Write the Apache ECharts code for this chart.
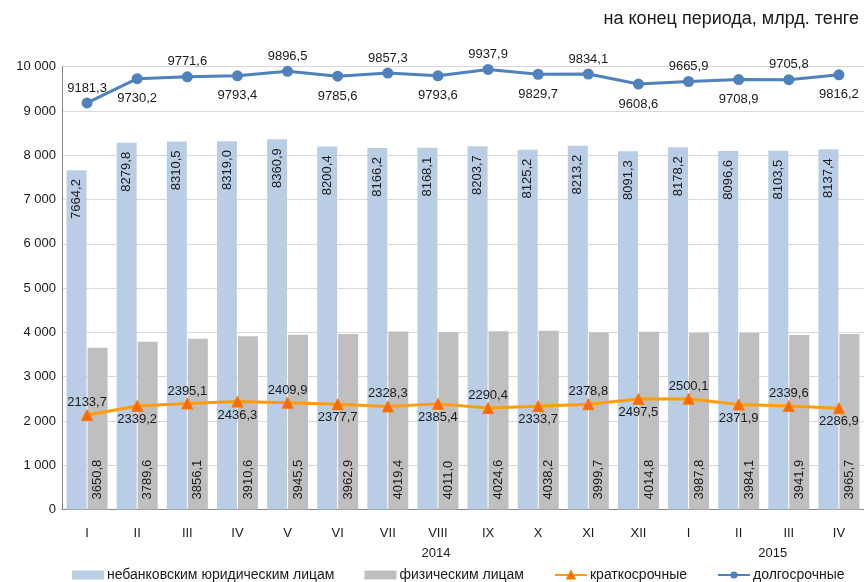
<!DOCTYPE html>
<html><head><meta charset="utf-8">
<script src="https://cdn.jsdelivr.net/npm/echarts@6/dist/echarts.min.js"></script>
<style>html,body{margin:0;padding:0;background:#fff}#c{width:864px;height:582px}</style>
</head><body><div id="c"></div>
<script>
const categories = ['I','II','III','IV','V','VI','VII','VIII','IX','X','XI','XII','I','II','III','IV'];
const legalEntities = [7664.2,8279.8,8310.5,8319.0,8360.9,8200.4,8166.2,8168.1,8203.7,8125.2,8213.2,8091.3,8178.2,8096.6,8103.5,8137.4];
const individuals = [3650.8,3789.6,3856.1,3910.6,3945.5,3962.9,4019.4,4011.0,4024.6,4038.2,3999.7,4014.8,3987.8,3984.1,3941.9,3965.7];
const shortTerm = [2133.7,2339.2,2395.1,2436.3,2409.9,2377.7,2328.3,2385.4,2290.4,2333.7,2378.8,2497.5,2500.1,2371.9,2339.6,2286.9];
const longTerm = [9181.3,9730.2,9771.6,9793.4,9896.5,9785.6,9857.3,9793.6,9937.9,9829.7,9834.1,9608.6,9665.9,9708.9,9705.8,9816.2];
const seriesNames = ['небанковским юридическим лицам','физическим лицам','краткосрочные','долгосрочные'];
const unitTitle = 'на конец периода, млрд. тенге';
const yearLabels = {7:'2014', 13:'2015'};

const FONT = '"Liberation Sans", Arial, sans-serif';
const fmt = v => v.toFixed(1).replace('.', ',');
const fmtY = v => String(v).replace(/\B(?=(\d{3})+(?!\d))/g, ' ');

const lineData = (arr, dTop, dBottom) => arr.map((v, i) => ({
  value: v,
  label: i % 2 === 0 ? { position: 'top', distance: dTop } : { position: 'bottom', distance: dBottom }
}));

const chart = echarts.init(document.getElementById('c'), null, {renderer: 'canvas'});
chart.setOption({
  animation: false,
  textStyle: { fontFamily: FONT },
  title: {
    text: unitTitle, right: 0, top: 5,
    textStyle: { fontFamily: FONT, fontSize: 18, fontWeight: 'normal', color: '#1a1a1a' }
  },
  grid: { left: 62, top: 66.7, width: 803, bottom: 72.5, containLabel: false },
  legend: {
    bottom: -5, left: 67, itemGap: 30, itemWidth: 32, itemHeight: 9,
    textStyle: { fontFamily: FONT, fontSize: 14, color: '#1a1a1a', padding: [0, 0, 0, -2] },
    data: [
      { name: seriesNames[0], icon: 'rect' },
      { name: seriesNames[1], icon: 'rect' },
      { name: seriesNames[2] },
      { name: seriesNames[3] }
    ]
  },
  xAxis: {
    type: 'category', data: categories,
    axisLine: { lineStyle: { color: '#868686', width: 1 } },
    axisTick: { length: 5, lineStyle: { color: '#868686' } },
    axisLabel: {
      interval: 0,
      fontFamily: FONT, fontSize: 13, color: '#1a1a1a', margin: 14, lineHeight: 20,
      formatter: (v, i) => {
        if (i === 7) return v + '\n{y1|' + yearLabels[7] + '}';
        if (i === 13) return v + '\n{y2|' + yearLabels[13] + '}';
        return v;
      },
      rich: {
        y1: { fontFamily: FONT, fontSize: 13, color: '#1a1a1a', padding: [0, 4, 0, 0] },
        y2: { fontFamily: FONT, fontSize: 13, color: '#1a1a1a', padding: [0, 0, 0, 68] }
      }
    }
  },
  yAxis: {
    type: 'value', min: 0, max: 10000, interval: 1000,
    axisLine: { show: true, lineStyle: { color: '#868686' } },
    axisTick: { show: false },
    splitLine: { lineStyle: { color: '#d9d9d9' } },
    axisLabel: { fontFamily: FONT, fontSize: 13, color: '#1a1a1a', margin: 6, formatter: fmtY }
  },
  series: [
    {
      name: seriesNames[0], type: 'bar', data: legalEntities,
      barWidth: 20, barGap: '5%',
      itemStyle: { color: '#b9cde5' },
      label: {
        show: true, position: 'insideTop', rotate: 90, align: 'right', verticalAlign: 'middle',
        distance: 9, fontFamily: FONT, fontSize: 13, color: '#1a1a1a',
        formatter: p => fmt(p.value)
      }
    },
    {
      name: seriesNames[1], type: 'bar', data: individuals,
      barWidth: 20,
      itemStyle: { color: '#bfbfbf' },
      label: {
        show: true, position: 'insideBottom', rotate: 90, align: 'left', verticalAlign: 'middle',
        distance: 10, fontFamily: FONT, fontSize: 13, color: '#1a1a1a',
        formatter: p => fmt(p.value)
      }
    },
    {
      name: seriesNames[2], type: 'line', data: lineData(shortTerm, 0, 1),
      symbol: 'triangle', symbolSize: 11,
      lineStyle: { color: '#ff9d0a', width: 3 },
      itemStyle: { color: '#ff6a00', borderColor: '#ff7a00', borderWidth: 1 },
      label: {
        show: true, fontFamily: FONT, fontSize: 13, color: '#1a1a1a',
        formatter: p => fmt(p.value)
      },
      z: 5
    },
    {
      name: seriesNames[3], type: 'line', data: lineData(longTerm, 3, 8),
      symbol: 'circle', symbolSize: 11,
      lineStyle: { color: '#4f81bd', width: 3 },
      itemStyle: { color: '#4f81bd' },
      label: {
        show: true, fontFamily: FONT, fontSize: 13, color: '#1a1a1a',
        formatter: p => fmt(p.value)
      },
      z: 5
    }
  ]
});
</script>
</body></html>
